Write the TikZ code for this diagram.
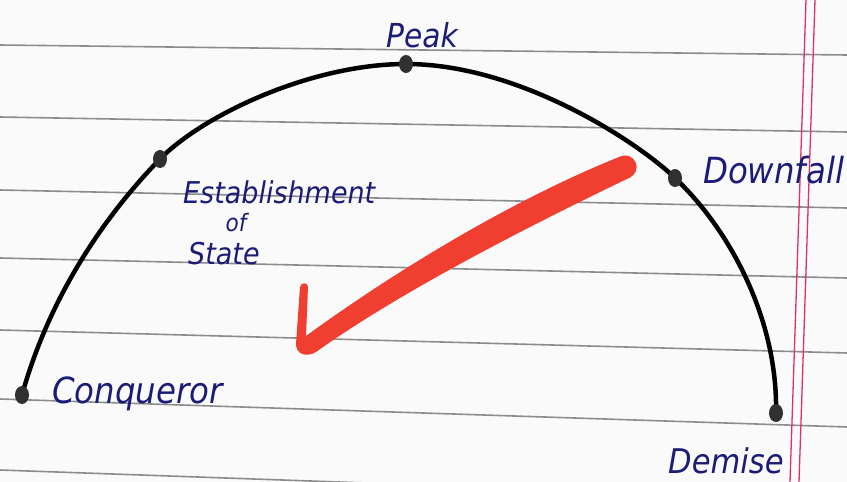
\documentclass[tikz,border=0pt]{standalone}
\usepackage{fontspec}
\usepackage{graphicx}
\setmainfont{DejaVu Sans Condensed}
\definecolor{paper}{HTML}{FAFAFA}
\definecolor{rule}{HTML}{8C8C8C}
\definecolor{ink}{HTML}{1C1C78}
\definecolor{margin}{HTML}{E0306A}
\definecolor{tick}{HTML}{F03E30}
\definecolor{dotc}{HTML}{303030}
\usetikzlibrary{shapes.geometric}
\tikzset{
  ruled/.style={draw=rule, line width=1.6pt},
  marginline/.style={draw=margin, line width=1.3pt},
  hand/.style={text=ink, inner sep=0pt, anchor=base west},
  pt/.style={ellipse, fill=dotc, minimum width=14pt, minimum height=18pt, inner sep=0pt},
  arcline/.style={draw=black, line width=4.5pt, line cap=round, line join=round}
}
\newcommand{\hw}[2]{\fontsize{#1}{#1}\selectfont\itshape #2}
\begin{document}
\begin{tikzpicture}[x=1pt, y=-1pt]
\useasboundingbox (0,0) rectangle (847,482);
\fill[paper] (0,0) rectangle (847,482);
% ruled lines
\foreach \a/\b in {45/55, 117/132, 190/208, 258/278, 330/353, 399/427, 470/500}
  \draw[ruled] (0,\a) -- (847,\b);
% margin lines
\draw[marginline] (806,0) -- (790,482);
\draw[marginline] (815,0) -- (799,482);
% arc
\coordinate (c) at (22,395);
\coordinate (e) at (160,159);
\coordinate (p) at (406,64);
\coordinate (d) at (675,178);
\coordinate (m) at (776,413);
\draw[arcline] (c) .. controls (47,305) and (97,224) .. (e)
  .. controls (202,116) and (310,64) .. (p)
  .. controls (520,64) and (639,143) .. (d)
  .. controls (733,233) and (778,323) .. (m);
\node[pt] (nc) at (c) {};
\node[pt] (ne) at (e) {};
\node[pt] (np) at (p) {};
\node[pt] (nd) at (d) {};
\node[pt] (nm) at (m) {};
% labels
\node[hand] (lp) at (386,47) {\hw{33}{Peak}};
\node[hand] (le1) at (183,203) {\hw{30}{Establishment}};
\node[hand, anchor=base] (le2) at (236,231) {\hw{24}{of}};
\node[hand] (le3) at (188,264) {\hw{30}{State}};
\node[hand] (ld) at (703,183) {\hw{36}{Downfall}};
\node[hand] (lc) at (52,403) {\hw{36}{Conqueror}};
\node[hand] (lm) at (668,473) {\hw{34}{Demise}};
% red check mark
\fill[tick] (306,336)
  .. controls (380,282) and (500,205) .. (619,157)
  -- (631,177)
  .. controls (525,228) and (400,292) .. (316,352)
  .. controls (306,358) and (296,354) .. (296,344)
  -- (300,287)
  .. controls (301,282) and (308,282) .. (308,287)
  -- cycle;
\fill[tick] (625,167) circle[radius=11.6pt];
\end{tikzpicture}
\end{document}
